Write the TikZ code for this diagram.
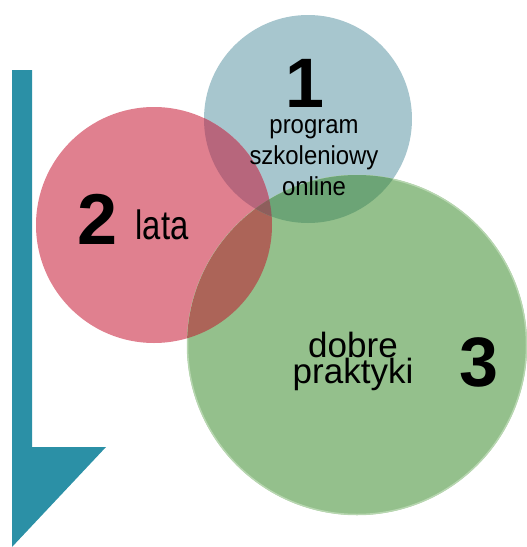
\documentclass[tikz,border=0pt]{standalone}
\usepackage{fontspec}
\setmainfont{Liberation Sans}

\definecolor{arrowteal}{HTML}{2B90A6}
\definecolor{progblue}{HTML}{A7C6CE}
\definecolor{latared}{HTML}{E0808F}
\definecolor{praktgreen}{HTML}{94C08C}
\definecolor{praktedge}{HTML}{B7D6B0}
\definecolor{progred}{HTML}{B7667C}
\definecolor{proggreen}{HTML}{6CA476}
\definecolor{latagreen}{HTML}{AC6458}
\definecolor{allthree}{HTML}{8E5E5C}

\newcommand\tightlines{\lineskiplimit=-100pt\relax}

\begin{document}
\begin{tikzpicture}[x=1pt, y=-1pt,
  digit/.style={inner sep=0pt, font=\bfseries\fontsize{70}{70}\selectfont},
  word/.style={inner sep=0pt, align=center}]

  \useasboundingbox (0,0) rectangle (527,547);

  % Arrow
  \fill[arrowteal] (12,70) -- (32,70) -- (32,447) -- (106,447) -- (12,547) -- cycle;

  % Circle centres
  \coordinate (prog) at (308,119);
  \coordinate (lata) at (154,225);
  \coordinate (prakt) at (357,345);

  % Circles
  \fill[progblue] (prog) circle[radius=104pt];
  \fill[latared] (lata) circle[radius=118pt];
  \fill[praktgreen] (prakt) circle[radius=170pt];
  \draw[praktedge, line width=1.5pt] (prakt) circle[radius=169.5pt];

  % Overlaps
  \begin{scope}
    \clip (lata) circle[radius=118pt];
    \fill[latagreen] (prakt) circle[radius=170pt];
  \end{scope}
  \begin{scope}
    \clip (prog) circle[radius=104pt];
    \fill[progred] (lata) circle[radius=118pt];
    \fill[proggreen] (prakt) circle[radius=170pt];
    \clip (lata) circle[radius=118pt];
    \fill[allthree] (prakt) circle[radius=170pt];
  \end{scope}

  % Texts
  \node[digit] (one) at (305,83) {1};
  \node[word, xscale=0.92, font=\fontsize{26}{31}\selectfont] (progtext) at (314,158)
    {program\\szkoleniowy\\online};

  \node[digit, font=\bfseries\fontsize{72}{72}\selectfont] (two) at (98,219) {2};
  \node[word, anchor=base, xscale=0.8, font=\fontsize{41}{41}\selectfont] (latatext) at (162,239) {lata};

  \node[digit] (three) at (479,362) {3};
  \node[word, font=\fontsize{35}{26}\selectfont\tightlines] (prakttext) at (353,361)
    {dobre\\praktyki};

\end{tikzpicture}
\end{document}
